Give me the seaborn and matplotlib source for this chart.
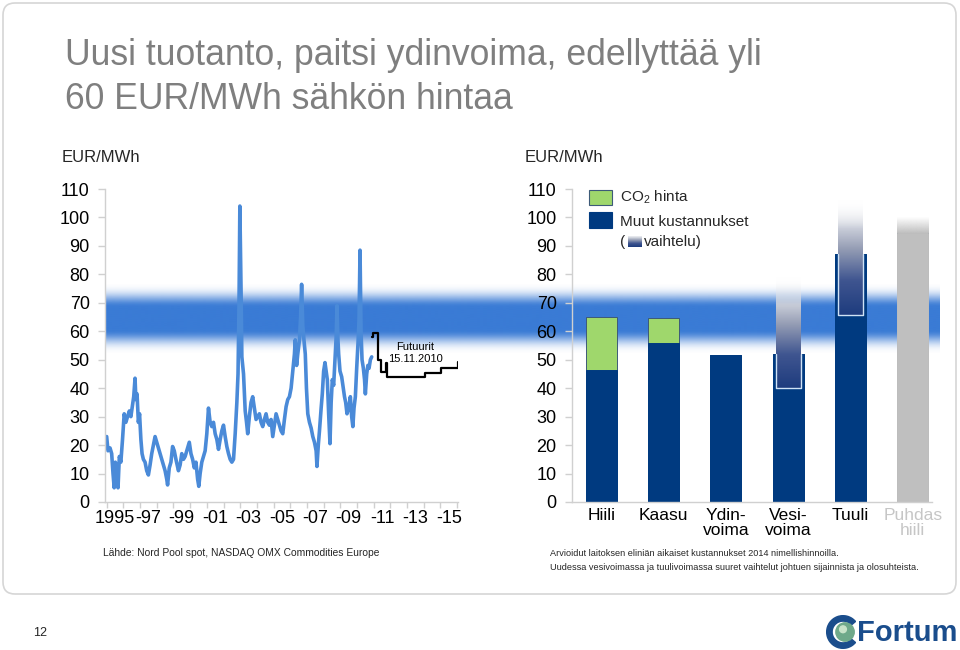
import numpy as np
import pandas as pd
import matplotlib
matplotlib.use("Agg")
import matplotlib.pyplot as plt
import seaborn as sns
from matplotlib.colors import LinearSegmentedColormap, to_rgba
from matplotlib.patches import FancyBboxPatch, Rectangle, Circle, Wedge

# ---------------- data ----------------
price_year = [
    1995.00, 1995.08, 1995.20, 1995.30, 1995.38, 1995.45, 1995.52, 1995.60, 1995.68, 1995.76,
    1995.85, 1995.95, 1996.05, 1996.15, 1996.25, 1996.36, 1996.45, 1996.55, 1996.62, 1996.70,
    1996.75, 1996.82, 1996.90, 1996.97, 1997.05, 1997.12, 1997.20, 1997.30, 1997.40, 1997.50,
    1997.60, 1997.70, 1997.80, 1997.90, 1998.00, 1998.10, 1998.20, 1998.30, 1998.40, 1998.50,
    1998.60, 1998.65, 1998.75, 1998.85, 1998.95, 1999.05, 1999.15, 1999.30, 1999.40, 1999.50,
    1999.60, 1999.70, 1999.80, 1999.95, 2000.05, 2000.15, 2000.25, 2000.35, 2000.45, 2000.52,
    2000.60, 2000.70, 2000.80, 2000.90, 2001.00, 2001.10, 2001.20, 2001.30, 2001.40, 2001.50,
    2001.60, 2001.70, 2001.80, 2001.90, 2002.00, 2002.10, 2002.20, 2002.30, 2002.40, 2002.50,
    2002.60, 2002.70, 2002.80, 2002.87, 2002.93, 2002.98, 2003.05, 2003.10, 2003.20, 2003.30,
    2003.38, 2003.45, 2003.55, 2003.65, 2003.75, 2003.85, 2003.95, 2004.05, 2004.15, 2004.25,
    2004.35, 2004.45, 2004.55, 2004.65, 2004.75, 2004.85, 2004.95, 2005.05, 2005.15, 2005.25,
    2005.35, 2005.45, 2005.55, 2005.65, 2005.75, 2005.85, 2005.95, 2006.05, 2006.15, 2006.25,
    2006.30, 2006.38, 2006.45, 2006.55, 2006.62, 2006.68, 2006.75, 2006.82, 2006.90, 2006.97,
    2007.05, 2007.15, 2007.25, 2007.35, 2007.45, 2007.55, 2007.60, 2007.68, 2007.75, 2007.85,
    2007.92, 2008.00, 2008.08, 2008.15, 2008.22, 2008.30, 2008.38, 2008.45, 2008.52, 2008.60,
    2008.68, 2008.75, 2008.80, 2008.85, 2008.90, 2008.98, 2009.08, 2009.15, 2009.25, 2009.32,
    2009.40, 2009.50, 2009.60, 2009.68, 2009.75, 2009.82, 2009.90, 2009.98, 2010.06, 2010.12,
    2010.18, 2010.24, 2010.30, 2010.38, 2010.45, 2010.50, 2010.58, 2010.65, 2010.72, 2010.80,
    2010.88,
]
price_eur = [
    23, 18, 19, 17, 10, 5, 14, 12, 5, 16,
    14, 22, 31, 28, 30, 32, 30, 34, 37, 43.5,
    36, 38, 28, 31, 22, 17, 15, 14, 11, 9.5,
    13, 17, 20, 23, 21, 19, 17, 15, 13, 11,
    8, 6, 12, 14, 19.5, 18, 15, 11, 13, 17,
    15, 16, 18, 21, 17, 15, 12, 14, 8, 5.5,
    10, 14, 16, 18, 24, 33, 28, 26.5, 28, 24,
    22, 18.5, 22, 25, 27, 23, 19.5, 17, 15, 14,
    15, 24, 35, 45, 70, 104, 75, 51, 45, 32,
    28, 24, 30, 35, 37, 33, 29, 30, 31, 28,
    26.5, 29, 31, 28, 27, 29, 23, 27, 31, 29,
    27, 25, 24, 29, 33.5, 36, 37, 40, 46, 52,
    57, 48, 52, 57, 65, 76.5, 62, 57, 52, 40,
    31, 28, 26, 23, 21, 18, 12.5, 20, 25, 33,
    38, 46, 49, 46, 43, 31, 20.5, 35, 43, 41,
    50, 58, 69, 58, 52, 46, 44, 41, 37, 35,
    31, 33, 37, 30, 26.5, 33, 37, 47, 56, 64,
    88.5, 60, 50, 47, 43, 38, 45, 48, 47, 50,
    51,
]
futures_year = [2010.90, 2010.95, 2011.27, 2011.45, 2011.72, 2011.82, 2014.10, 2015.05, 2016.05]
futures_eur = [58.0, 59.5, 50.0, 45.8, 48.7, 44.0, 45.2, 47.0, 49.3]

year_label_pos = [1995, 1997, 1999, 2001, 2003, 2005, 2007, 2009, 2011, 2013, 2015]
year_labels = ["1995", "-97", "-99", "-01", "-03", "-05", "-07", "-09", "-11", "-13", "-15"]

bar_categories = ["Hiili", "Kaasu", "Ydin-\nvoima", "Vesi-\nvoima", "Tuuli", "Puhdas\nhiili"]
other_costs = [46.5, 56.0, 51.5, 52.0, 87.2, 94.5]
co2_price = [18.5, 8.7, 0.0, 0.0, 0.0, 0.0]
variation_low = [np.nan, np.nan, np.nan, 40.0, 65.7, np.nan]
variation_high = [np.nan, np.nan, np.nan, 79.0, 106.0, np.nan]
puhdas_fade_top = 100.0

band_lo, band_core_lo, band_core_hi, band_hi = 51.0, 60.5, 68.5, 78.0

# ---------------- style ----------------
sns.set_theme(style="white")
plt.rcParams['font.family'] = ['Liberation Sans', 'DejaVu Sans']
plt.rcParams['mathtext.fontset'] = 'custom'
plt.rcParams['mathtext.rm'] = 'Liberation Sans'

NAVY = '#003a80'
GREEN = '#9fd76c'
GREY_BAR = '#bfbfbf'
LINE_BLUE = '#4a8ad8'
BAND_BLUE = '#3a7bd5'
AXIS_GREY = '#d0d0d0'
TITLE_GREY = '#7f7f7f'

W, H = 960, 650
fig = plt.figure(figsize=(9.6, 6.5), dpi=100)
fig.patch.set_facecolor('white')


def fx(x):
    return x / W


def fy(y):
    return 1 - y / H


# slide frame
frame = FancyBboxPatch((0.03, 0.56), 9.53, 5.91, boxstyle="round,pad=0,rounding_size=0.12",
                       transform=fig.dpi_scale_trans, fc='none', ec='#d6d6d6', lw=1.2)
fig.patches.append(frame)

ax_top_px, ax_bot_px = 189, 502
bottom = fy(ax_bot_px)
height = (ax_bot_px - ax_top_px) / H

# --- horizontal band across both charts ---
axb = fig.add_axes([fx(106), bottom, fx(940) - fx(106), height], zorder=0)
axb.set_axis_off()
v = np.linspace(band_lo, band_hi, 500)
a = np.interp(v, [band_lo, band_core_lo, band_core_hi, band_hi], [0, 1, 1, 0])
a = (a * a * (3 - 2 * a)) ** 1.8
rgba = np.zeros((500, 1, 4))
rgba[:, 0, :3] = to_rgba(BAND_BLUE)[:3]
rgba[:, 0, 3] = a
axb.imshow(rgba, extent=[0, 1, band_lo, band_hi], origin='lower', aspect='auto',
           interpolation='bilinear')
axb.set_xlim(0, 1)
axb.set_ylim(0, 110)

# --- left chart: spot price ---
ax1 = fig.add_axes([fx(105), bottom, fx(458) - fx(105), height], zorder=1)
ax1.patch.set_alpha(0)
sns.lineplot(x=price_year, y=price_eur, ax=ax1, color=LINE_BLUE, linewidth=2.6,
             errorbar=None, sort=False)
sns.lineplot(x=futures_year, y=futures_eur, ax=ax1, color='black', linewidth=1.6,
             errorbar=None, sort=False, drawstyle='steps-post')
ax1.set_xlim(1994.9, 2016.05)
ax1.set_ylim(0, 110)
ax1.set_yticks(range(0, 111, 10))
ax1.set_xticks([y + 0.5 for y in year_label_pos])
ax1.set_xticklabels(year_labels)
ax1.set_xticks(range(1995, 2017), minor=True)
ax1.text(2013.5, 52.4, "Futuurit\n15.11.2010", ha='center', va='center', fontsize=8,
         linespacing=1.25, color='black')

# --- right chart: cost bars ---
ax2 = fig.add_axes([fx(572), bottom, fx(932) - fx(572), height], zorder=1)
ax2.patch.set_alpha(0)
totals = [o + c for o, c in zip(other_costs, co2_price)]
df_bars = pd.DataFrame({'category': bar_categories, 'total': totals, 'other': other_costs})
bar_colors = [NAVY, NAVY, NAVY, NAVY, NAVY, GREY_BAR]
sns.barplot(data=df_bars, x='category', y='total', color=GREEN, width=0.5, saturation=1,
            ax=ax2, edgecolor='#3d5a78', linewidth=0.7)
n_green = len(ax2.patches)
sns.barplot(data=df_bars, x='category', y='other', hue='category', palette=bar_colors,
            legend=False, width=0.5, saturation=1, ax=ax2, linewidth=0.7)
for p in ax2.patches[n_green:]:
    p.set_edgecolor(p.get_facecolor())

# variation gradients
var_cmap = LinearSegmentedColormap.from_list(
    'var', [(0.0, '#1e3c7e'), (0.3, '#3f5590'), (0.58, '#969eb5'), (0.82, '#dcdfe6'),
            (1.0, '#ffffff')])
gsteps = 300
t = np.linspace(0, 1, gsteps)
grad = var_cmap(t).reshape(gsteps, 1, 4)
grad[:, 0, 3] = np.clip((1 - t) / 0.25, 0, 1)
for i, (lo, hi) in enumerate(zip(variation_low, variation_high)):
    if np.isnan(lo):
        continue
    ax2.imshow(grad, extent=[i - 0.2, i + 0.2, lo, hi], origin='lower', aspect='auto',
               interpolation='bilinear', zorder=3)
    top = other_costs[i]
    ax2.plot([i - 0.2, i - 0.2, i + 0.2, i + 0.2], [top, lo, lo, top], color='#cfe2f5',
             lw=1.0, zorder=4)

# Puhdas hiili fade
fade = np.zeros((gsteps, 1, 4))
fade[:, 0, :3] = to_rgba(GREY_BAR)[:3]
fade[:, 0, 3] = 1 - t
ax2.imshow(fade, extent=[5 - 0.25, 5 + 0.25, other_costs[5], puhdas_fade_top], origin='lower',
           aspect='auto', interpolation='bilinear', zorder=3)

ax2.set_xlim(-0.47, 5.31)
ax2.set_ylim(0, 110)
ax2.set_yticks(range(0, 111, 10))
ax2.set_xlabel('')
ax2.set_ylabel('')
ax2.tick_params(axis='x', length=0, pad=4, labelsize=12.5, colors='black')
for lab in ax2.get_xticklabels():
    lab.set_linespacing(1.05)
ax2.get_xticklabels()[5].set_color('#c6c6c6')

# legend
ax2.add_patch(Rectangle((0.047, 0.949), 0.064, 0.048, transform=ax2.transAxes, fc=GREEN,
                        ec='#3d5a78', lw=0.8, clip_on=False))
ax2.add_patch(Rectangle((0.047, 0.875), 0.064, 0.052, transform=ax2.transAxes, fc=NAVY,
                        ec=NAVY, lw=0.8, clip_on=False))
ax2.text(0.133, 0.974, r"CO$_\mathregular{2}$ hinta", transform=ax2.transAxes, fontsize=11,
         va='center', ha='left')
ax2.text(0.133, 0.895, "Muut kustannukset", transform=ax2.transAxes, fontsize=11,
         va='center', ha='left')
ax2.text(0.133, 0.831, "(", transform=ax2.transAxes, fontsize=11, va='center', ha='left')
ax2.text(0.200, 0.831, "vaihtelu)", transform=ax2.transAxes, fontsize=11, va='center',
         ha='left')
axi = fig.add_axes([fx(628), fy(247), 14 / W, 11 / H], zorder=2)
axi.imshow(var_cmap(np.linspace(0, 0.9, 50)).reshape(50, 1, 4), origin='lower',
           aspect='auto', extent=[0, 1, 0, 1])
axi.set_axis_off()

# common axis styling
for ax in (ax1, ax2):
    sns.despine(ax=ax)
    for s in ('left', 'bottom'):
        ax.spines[s].set_color(AXIS_GREY)
        ax.spines[s].set_linewidth(1.0)
    ax.tick_params(axis='y', which='major', direction='out', length=5, width=1,
                   color=AXIS_GREY, labelsize=13, pad=6, labelcolor='black', left=True)
    ax.set_xlabel('')
    ax.set_ylabel('')
ax1.tick_params(axis='x', which='major', length=0, labelsize=13, pad=6, labelcolor='black',
                bottom=True)
ax1.tick_params(axis='x', which='minor', direction='out', length=4, width=1,
                color=AXIS_GREY, bottom=True)

# ---------------- slide texts ----------------
fig.text(fx(65), fy(65), "Uusi tuotanto, paitsi ydinvoima, edellyttää yli", fontsize=25.6,
         color=TITLE_GREY, ha='left', va='baseline')
fig.text(fx(65), fy(109), "60 EUR/MWh sähkön hintaa", fontsize=25.6, color=TITLE_GREY,
         ha='left', va='baseline')
fig.text(fx(62), fy(158), "EUR/MWh", fontsize=12, ha='left', va='center')
fig.text(fx(525), fy(158), "EUR/MWh", fontsize=12, ha='left', va='center')
fig.text(fx(103), fy(553), "Lähde: Nord Pool spot, NASDAQ OMX Commodities Europe",
         fontsize=7.4, ha='left', va='center')
fig.text(fx(550), fy(553),
         "Arvioidut laitoksen eliniän aikaiset kustannukset 2014 nimellishinnoilla.",
         fontsize=6.6, ha='left', va='center')
fig.text(fx(550), fy(567),
         "Uudessa vesivoimassa ja tuulivoimassa suuret vaihtelut johtuen sijainnista ja olosuhteista.",
         fontsize=6.6, ha='left', va='center')
fig.text(fx(33), fy(633), "12", fontsize=9, ha='left', va='center')

# Fortum logo
logo_ax = fig.add_axes([fx(826), fy(649), 34 / W, 34 / H], zorder=2)
logo_ax.set_xlim(0, 1)
logo_ax.set_ylim(0, 1)
logo_ax.set_aspect('equal')
logo_ax.set_axis_off()
logo_ax.add_patch(Wedge((0.5, 0.5), 0.48, 40, 320, width=0.16, color='#1a4d8c'))
logo_ax.add_patch(Circle((0.56, 0.5), 0.27, color='#6fa98a'))
logo_ax.add_patch(Circle((0.5, 0.58), 0.1, color='#c9e3c9'))
fig.text(fx(857), fy(633), "Fortum", fontsize=21, fontweight='bold', color='#1a4d8c',
         ha='left', va='center')

fig.savefig("out.png", dpi=100)
